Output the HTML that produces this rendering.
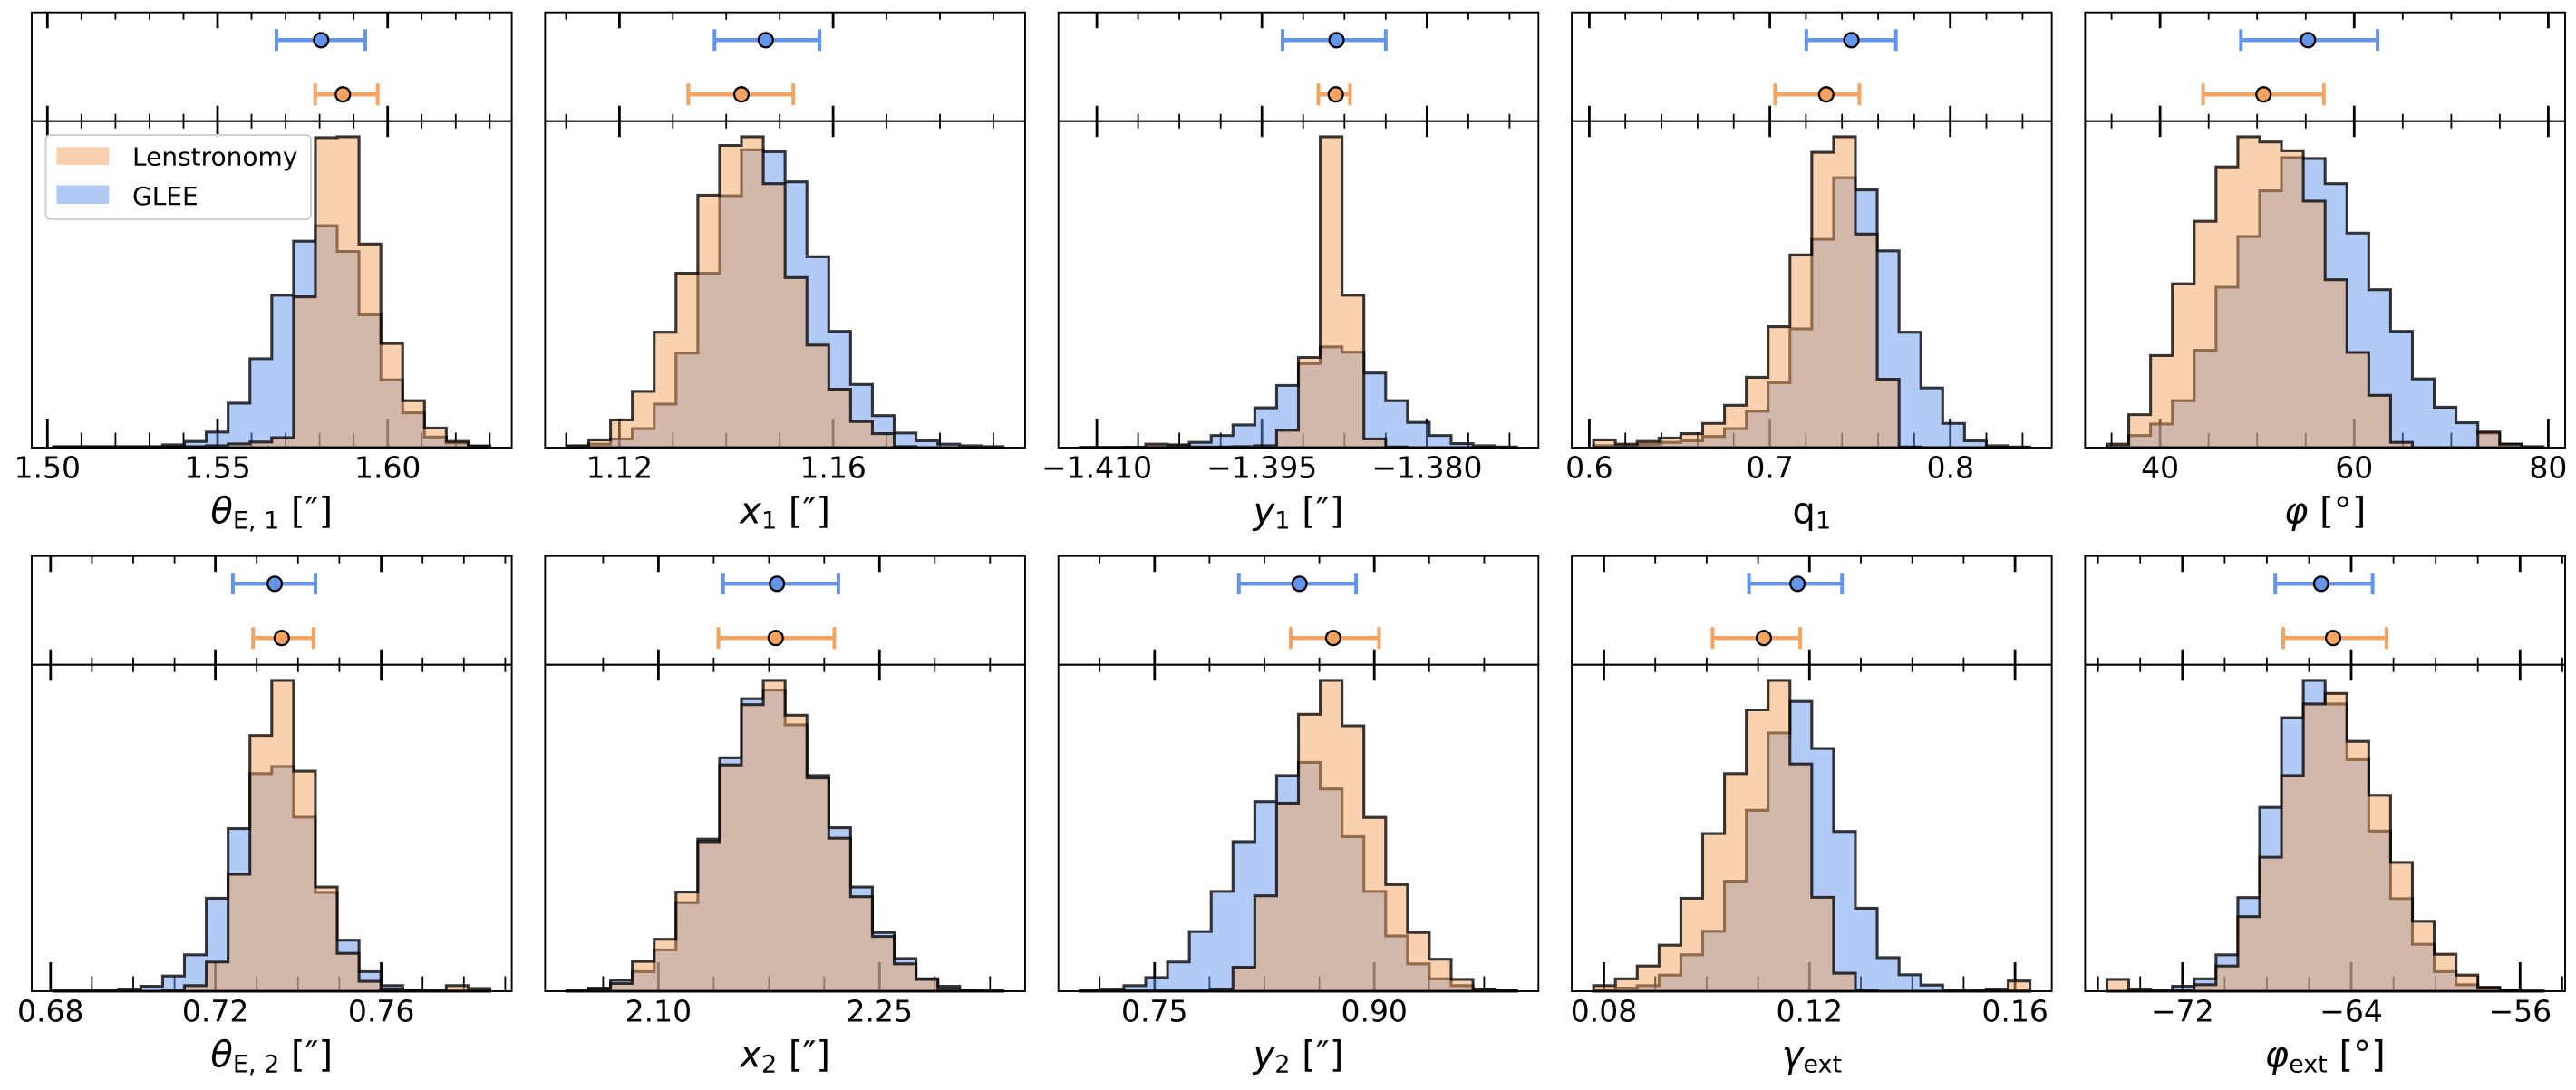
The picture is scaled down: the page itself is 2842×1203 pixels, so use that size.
<!DOCTYPE html>
<html>
<head>
<meta charset="utf-8">
<style>
html,body{margin:0;padding:0;background:#fff;width:2842px;height:1203px;overflow:hidden;}
svg{display:block;}
text{font-family:"DejaVu Sans","Liberation Sans",sans-serif;fill:#000;}
.tl{font-size:33px;text-anchor:middle;}
.al{font-size:40px;text-anchor:middle;}
.hb{fill:rgba(100,149,237,0.5);stroke:rgba(0,0,0,0.78);stroke-width:3.1px;}
.ho{fill:rgba(244,164,96,0.5);stroke:rgba(0,0,0,0.78);stroke-width:3.1px;}
.sp{fill:none;stroke:#000;stroke-width:1.9;}
.mj{stroke:#000;stroke-width:2.8;fill:none;}
.mn{stroke:#000;stroke-width:1.8;fill:none;}
</style>
</head>
<body>
<svg width="2842" height="1203" viewBox="0 0 2842 1203" xmlns="http://www.w3.org/2000/svg">
<rect x="0" y="0" width="2842" height="1203" fill="#fff"/>

<!-- ================= ROW 1 ================= -->
<g>
<path class="mj" d="M52.3 13.7v17.5m0 85.5v34.5m0 342.8v-32M240 13.7v17.5m0 85.5v34.5m0 342.8v-32M427.7 13.7v17.5m0 85.5v34.5m0 342.8v-32M683.4 13.7v17.5m0 85.5v34.5m0 342.8v-32M919.1 13.7v17.5m0 85.5v34.5m0 342.8v-32M1210.1 13.7v17.5m0 85.5v34.5m0 342.8v-32M1392.2 13.7v17.5m0 85.5v34.5m0 342.8v-32M1574.4 13.7v17.5m0 85.5v34.5m0 342.8v-32M1753.4 13.7v17.5m0 85.5v34.5m0 342.8v-32M1952.6 13.7v17.5m0 85.5v34.5m0 342.8v-32M2151.7 13.7v17.5m0 85.5v34.5m0 342.8v-32M2383.1 13.7v17.5m0 85.5v34.5m0 342.8v-32M2597.3 13.7v17.5m0 85.5v34.5m0 342.8v-32M2811.4 13.7v17.5m0 85.5v34.5m0 342.8v-32"/>
<path class="mn" d="M89.8 13.7v8m0 104v16m0 352.3v-16.5M127.4 13.7v8m0 104v16m0 352.3v-16.5M164.9 13.7v8m0 104v16m0 352.3v-16.5M202.5 13.7v8m0 104v16m0 352.3v-16.5M277.5 13.7v8m0 104v16m0 352.3v-16.5M315.1 13.7v8m0 104v16m0 352.3v-16.5M352.6 13.7v8m0 104v16m0 352.3v-16.5M390.2 13.7v8m0 104v16m0 352.3v-16.5M465.2 13.7v8m0 104v16m0 352.3v-16.5M502.8 13.7v8m0 104v16m0 352.3v-16.5M540.3 13.7v8m0 104v16m0 352.3v-16.5M624.5 13.7v8m0 104v16m0 352.3v-16.5M742.3 13.7v8m0 104v16m0 352.3v-16.5M801.2 13.7v8m0 104v16m0 352.3v-16.5M860.2 13.7v8m0 104v16m0 352.3v-16.5M978 13.7v8m0 104v16m0 352.3v-16.5M1037 13.7v8m0 104v16m0 352.3v-16.5M1095.9 13.7v8m0 104v16m0 352.3v-16.5M1255.6 13.7v8m0 104v16m0 352.3v-16.5M1301.1 13.7v8m0 104v16m0 352.3v-16.5M1346.7 13.7v8m0 104v16m0 352.3v-16.5M1437.7 13.7v8m0 104v16m0 352.3v-16.5M1483.3 13.7v8m0 104v16m0 352.3v-16.5M1528.8 13.7v8m0 104v16m0 352.3v-16.5M1619.9 13.7v8m0 104v16m0 352.3v-16.5M1665.4 13.7v8m0 104v16m0 352.3v-16.5M1793.2 13.7v8m0 104v16m0 352.3v-16.5M1833.1 13.7v8m0 104v16m0 352.3v-16.5M1872.9 13.7v8m0 104v16m0 352.3v-16.5M1912.7 13.7v8m0 104v16m0 352.3v-16.5M1992.4 13.7v8m0 104v16m0 352.3v-16.5M2032.2 13.7v8m0 104v16m0 352.3v-16.5M2072.1 13.7v8m0 104v16m0 352.3v-16.5M2111.9 13.7v8m0 104v16m0 352.3v-16.5M2191.5 13.7v8m0 104v16m0 352.3v-16.5M2231.4 13.7v8m0 104v16m0 352.3v-16.5M2329.6 13.7v8m0 104v16m0 352.3v-16.5M2436.7 13.7v8m0 104v16m0 352.3v-16.5M2490.2 13.7v8m0 104v16m0 352.3v-16.5M2543.8 13.7v8m0 104v16m0 352.3v-16.5M2650.8 13.7v8m0 104v16m0 352.3v-16.5M2704.4 13.7v8m0 104v16m0 352.3v-16.5M2757.9 13.7v8m0 104v16m0 352.3v-16.5"/>

<g transform="translate(59.07,494) scale(24.073,-343.1)">
<path class="hb" vector-effect="non-scaling-stroke" d="M0,0V.003H1V.003H2V.003H3V.003H4V.003H5V.009H6V.02H7V.05H8V.143H9V.286H10V.49H11V.664H12V.714H13V.631H14V.427H15V.218H16V.112H17V.034H18V.015H19V.005H20V0Z"/>
<path class="ho" vector-effect="non-scaling-stroke" d="M0,0V.002H6V.003H7V.006H8V.012H9V.018H10V.032H11V.485H12V.997H13V1H14V.655H15V.335H16V.151H17V.063H18V.02H19V.005H20V0Z"/>
</g>
<g transform="translate(625.42,494) scale(24.073,-343.1)">
<path class="hb" vector-effect="non-scaling-stroke" d="M0,0V.003H1V.011H2V.028H3V.061H4V.14H5V.304H6V.561H7V.81H8V.958H9V.952H10V.855H11V.614H12V.374H13V.203H14V.103H15V.047H16V.022H17V.011H18V.006H19V.003H20V0Z"/>
<path class="ho" vector-effect="non-scaling-stroke" d="M0,0V.006H1V.025H2V.089H3V.181H4V.371H5V.561H6V.812H7V.972H8V1H9V.849H10V.547H11V.33H12V.188H13V.084H14V.045H15V.003H16V0H20Z"/>
</g>
<g transform="translate(1191.77,494) scale(24.073,-343.1)">
<path class="hb" vector-effect="non-scaling-stroke" d="M0,0H2V.001H3V.002H4V.006H5V.017H6V.039H7V.073H8V.128H9V.2H10V.27H11V.324H12V.307H13V.24H14V.151H15V.081H16V.039H17V.013H18V.006H19V.002H20V0Z"/>
<path class="ho" vector-effect="non-scaling-stroke" d="M0,0V.001H3V.011H4V.009H5V.002H7V.003H8V.006H9V.056H10V.29H11V1H12V.49H13V.028H14V.002H15V0H20Z"/>
</g>
<g transform="translate(1758.12,494) scale(24.073,-343.1)">
<path class="hb" vector-effect="non-scaling-stroke" d="M0,0V.006H2V.011H3V.017H4V.022H5V.036H6V.061H7V.117H8V.209H9V.382H10V.67H11V.868H12V.829H13V.633H14V.371H15V.192H16V.078H17V.022H18V.006H19V.002H20V0Z"/>
<path class="ho" vector-effect="non-scaling-stroke" d="M0,0V.025H1V.011H2V.02H3V.031H4V.045H5V.078H6V.136H7V.226H8V.389H9V.62H10V.95H11V1H12V.687H13V.22H14V.002H15V0H20Z"/>
</g>
<g transform="translate(2324.47,494) scale(24.073,-343.1)">
<path class="hb" vector-effect="non-scaling-stroke" d="M0,0V.003H1V.039H2V.076H3V.151H4V.313H5V.516H6V.679H7V.826H8V.933H9V.93H10V.849H11V.69H12V.508H13V.374H14V.221H15V.13H16V.08H17V.047H18V.011H19V.003H20V0Z"/>
<path class="ho" vector-effect="non-scaling-stroke" d="M0,0V.011H1V.106H2V.296H3V.527H4V.728H5V.903H6V1H7V.983H8V.955H9V.793H10V.54H11V.306H12V.168H13V.017H14V0H17V.05H18V.011H19V0H20Z"/>
</g>

<rect class="sp" x="35" y="13.7" width="529.6" height="120"/>
<rect class="sp" x="35" y="133.7" width="529.6" height="360.3"/>
<rect class="sp" x="601.35" y="13.7" width="529.6" height="120"/>
<rect class="sp" x="601.35" y="133.7" width="529.6" height="360.3"/>
<rect class="sp" x="1167.7" y="13.7" width="529.6" height="120"/>
<rect class="sp" x="1167.7" y="133.7" width="529.6" height="360.3"/>
<rect class="sp" x="1734.05" y="13.7" width="529.6" height="120"/>
<rect class="sp" x="1734.05" y="133.7" width="529.6" height="360.3"/>
<rect class="sp" x="2300.4" y="13.7" width="529.6" height="120"/>
<rect class="sp" x="2300.4" y="133.7" width="529.6" height="360.3"/>

<path d="M305 44.3H403M788.3 44.3H904.2M1415 44.3H1528.8M1992.8 44.3H2091.7M2472.3 44.3H2623.1" stroke="#6495ED" stroke-width="4.5" fill="none"/>
<path d="M305 32.3v24M403 32.3v24M788.3 32.3v24M904.2 32.3v24M1415 32.3v24M1528.8 32.3v24M1992.8 32.3v24M2091.7 32.3v24M2472.3 32.3v24M2623.1 32.3v24" stroke="#6495ED" stroke-width="4" fill="none"/>
<path d="M347.7 104.2H416.7M759.3 104.2H875.2M1454.5 104.2H1489.4M1958.4 104.2H2051.4M2430.6 104.2H2563.8" stroke="#F4A460" stroke-width="4.5" fill="none"/>
<path d="M347.7 92.2v24M416.7 92.2v24M759.3 92.2v24M875.2 92.2v24M1454.5 92.2v24M1489.4 92.2v24M1958.4 92.2v24M2051.4 92.2v24M2430.6 92.2v24M2563.8 92.2v24" stroke="#F4A460" stroke-width="4" fill="none"/>
<g fill="#6495ED" stroke="#000" stroke-width="2.3">
<circle cx="354.3" cy="44.3" r="7.9"/><circle cx="844.8" cy="44.3" r="7.9"/><circle cx="1474.5" cy="44.3" r="7.9"/><circle cx="2042.6" cy="44.3" r="7.9"/><circle cx="2546.3" cy="44.3" r="7.9"/>
</g>
<g fill="#F4A460" stroke="#000" stroke-width="2.3">
<circle cx="378.3" cy="104.2" r="7.9"/><circle cx="818" cy="104.2" r="7.9"/><circle cx="1473.7" cy="104.2" r="7.9"/><circle cx="2014.8" cy="104.2" r="7.9"/><circle cx="2497.2" cy="104.2" r="7.9"/>
</g>

<rect x="50.5" y="149" width="292.5" height="93" rx="5" ry="5" fill="#fff" fill-opacity="0.8" stroke="#d0d0d0" stroke-width="2"/>
<rect x="62.3" y="162.3" width="58" height="19.6" fill="rgba(244,164,96,0.5)"/>
<rect x="62.3" y="204.5" width="58" height="20.5" fill="rgba(100,149,237,0.5)"/>
<text x="146" y="182.6" font-size="28">Lenstronomy</text>
<text x="146" y="225.8" font-size="28">GLEE</text>

<text class="tl" x="52.3" y="527.3">1.50</text>
<text class="tl" x="240" y="527.3">1.55</text>
<text class="tl" x="427.7" y="527.3">1.60</text>
<text class="tl" x="683.4" y="527.3">1.12</text>
<text class="tl" x="919.1" y="527.3">1.16</text>
<text class="tl" x="1210.1" y="527.3">−1.410</text>
<text class="tl" x="1392.2" y="527.3">−1.395</text>
<text class="tl" x="1574.4" y="527.3">−1.380</text>
<text class="tl" x="1753.4" y="527.3">0.6</text>
<text class="tl" x="1952.6" y="527.3">0.7</text>
<text class="tl" x="2151.7" y="527.3">0.8</text>
<text class="tl" x="2383.1" y="527.3">40</text>
<text class="tl" x="2597.3" y="527.3">60</text>
<text class="tl" x="2811.4" y="527.3">80</text>

<text class="al" x="299.8" y="577.5"><tspan font-style="italic">θ</tspan><tspan font-size="27" dy="6">E, 1</tspan><tspan dy="-6"> [″]</tspan></text>
<text class="al" x="866.15" y="577.5"><tspan font-style="italic">x</tspan><tspan font-size="27" dy="6">1</tspan><tspan dy="-6"> [″]</tspan></text>
<text class="al" x="1432.5" y="577.5"><tspan font-style="italic">y</tspan><tspan font-size="27" dy="6">1</tspan><tspan dy="-6"> [″]</tspan></text>
<text class="al" x="1998.85" y="577.5"><tspan>q</tspan><tspan font-size="27" dy="6">1</tspan></text>
<text class="al" x="2565.2" y="577.5"><tspan font-style="italic">φ</tspan><tspan> [°]</tspan></text>
</g>

<!-- ================= ROW 2 ================= -->
<g transform="translate(0,600)">
<path class="mj" d="M55.8 13.7v17.5m0 85.5v34.5m0 342.8v-32M237.6 13.7v17.5m0 85.5v34.5m0 342.8v-32M420.6 13.7v17.5m0 85.5v34.5m0 342.8v-32M726.4 13.7v17.5m0 85.5v34.5m0 342.8v-32M970.3 13.7v17.5m0 85.5v34.5m0 342.8v-32M1273.8 13.7v17.5m0 85.5v34.5m0 342.8v-32M1516.2 13.7v17.5m0 85.5v34.5m0 342.8v-32M1769.5 13.7v17.5m0 85.5v34.5m0 342.8v-32M1996.3 13.7v17.5m0 85.5v34.5m0 342.8v-32M2223.1 13.7v17.5m0 85.5v34.5m0 342.8v-32M2407.8 13.7v17.5m0 85.5v34.5m0 342.8v-32M2594 13.7v17.5m0 85.5v34.5m0 342.8v-32M2780.3 13.7v17.5m0 85.5v34.5m0 342.8v-32"/>
<path class="mn" d="M101.4 13.7v8m0 104v16m0 352.3v-16.5M147 13.7v8m0 104v16m0 352.3v-16.5M192.6 13.7v8m0 104v16m0 352.3v-16.5M283.2 13.7v8m0 104v16m0 352.3v-16.5M328.8 13.7v8m0 104v16m0 352.3v-16.5M374.4 13.7v8m0 104v16m0 352.3v-16.5M466.2 13.7v8m0 104v16m0 352.3v-16.5M511.8 13.7v8m0 104v16m0 352.3v-16.5M557.4 13.7v8m0 104v16m0 352.3v-16.5M665.4 13.7v8m0 104v16m0 352.3v-16.5M787.4 13.7v8m0 104v16m0 352.3v-16.5M848.4 13.7v8m0 104v16m0 352.3v-16.5M909.3 13.7v8m0 104v16m0 352.3v-16.5M1031.3 13.7v8m0 104v16m0 352.3v-16.5M1092.3 13.7v8m0 104v16m0 352.3v-16.5M1213.2 13.7v8m0 104v16m0 352.3v-16.5M1334.4 13.7v8m0 104v16m0 352.3v-16.5M1395 13.7v8m0 104v16m0 352.3v-16.5M1455.6 13.7v8m0 104v16m0 352.3v-16.5M1576.8 13.7v8m0 104v16m0 352.3v-16.5M1637.4 13.7v8m0 104v16m0 352.3v-16.5M1826.2 13.7v8m0 104v16m0 352.3v-16.5M1882.9 13.7v8m0 104v16m0 352.3v-16.5M1939.6 13.7v8m0 104v16m0 352.3v-16.5M2053 13.7v8m0 104v16m0 352.3v-16.5M2109.7 13.7v8m0 104v16m0 352.3v-16.5M2166.4 13.7v8m0 104v16m0 352.3v-16.5M2314.7 13.7v8m0 104v16m0 352.3v-16.5M2361.2 13.7v8m0 104v16m0 352.3v-16.5M2454.4 13.7v8m0 104v16m0 352.3v-16.5M2500.9 13.7v8m0 104v16m0 352.3v-16.5M2547.5 13.7v8m0 104v16m0 352.3v-16.5M2640.6 13.7v8m0 104v16m0 352.3v-16.5M2687.2 13.7v8m0 104v16m0 352.3v-16.5M2733.7 13.7v8m0 104v16m0 352.3v-16.5M2826.9 13.7v8m0 104v16m0 352.3v-16.5"/>

<g transform="translate(59.07,494) scale(24.073,-343.1)">
<path class="hb" vector-effect="non-scaling-stroke" d="M0,0V.003H3V.007H4V.016H5V.049H6V.117H7V.299H8V.523H9V.7H10V.723H11V.56H12V.318H13V.164H14V.063H15V.018H16V.003H20V0Z"/>
<path class="ho" vector-effect="non-scaling-stroke" d="M0,0H5V.004H6V.018H7V.094H8V.376H9V.823H10V1H11V.708H12V.335H13V.122H14V.032H15V.007H16V.003H17V.001H18V.018H19V.009H20V0Z"/>
</g>
<g transform="translate(625.42,494) scale(24.073,-343.1)">
<path class="hb" vector-effect="non-scaling-stroke" d="M0,0V.003H1V.01H2V.036H3V.063H4V.133H5V.285H6V.489H7V.751H8V.941H9V.969H10V.857H11V.694H12V.526H13V.335H14V.189H15V.105H16V.04H17V.016H18V.004H19V.002H20V0Z"/>
<path class="ho" vector-effect="non-scaling-stroke" d="M0,0V.001H1V.007H2V.025H3V.096H4V.167H5V.319H6V.481H7V.728H8V.922H9V1H10V.888H11V.686H12V.492H13V.304H14V.176H15V.088H16V.038H17V.007H18V.002H19V0H20Z"/>
</g>
<g transform="translate(1191.77,494) scale(24.073,-343.1)">
<path class="hb" vector-effect="non-scaling-stroke" d="M0,0V.003H1V.007H2V.018H3V.044H4V.094H5V.192H6V.321H7V.481H8V.61H9V.694H10V.736H11V.651H12V.497H13V.321H14V.178H15V.088H16V.04H17V.018H18V.006H19V.002H20V0Z"/>
<path class="ho" vector-effect="non-scaling-stroke" d="M0,0V.001H6V.007H7V.077H8V.307H9V.605H10V.891H11V1H12V.854H13V.559H14V.343H15V.189H16V.103H17V.038H18V.007H19V.003H20V0Z"/>
</g>
<g transform="translate(1758.12,494) scale(24.073,-343.1)">
<path class="hb" vector-effect="non-scaling-stroke" d="M0,0V.004H1V.01H2V.018H3V.052H4V.117H5V.193H6V.354H7V.582H8V.831H9V.932H10V.781H11V.514H12V.267H13V.108H14V.053H15V.02H16V.004H17V.002H18V.004H19V.002H20V0Z"/>
<path class="ho" vector-effect="non-scaling-stroke" d="M0,0V.018H1V.04H2V.081H3V.148H4V.299H5V.507H6V.7H7V.905H8V1H9V.731H10V.302H11V.058H12V.004H13V0H18V.007H19V.033H20V0Z"/>
</g>
<g transform="translate(2324.47,494) scale(24.073,-343.1)">
<path class="hb" vector-effect="non-scaling-stroke" d="M0,0H1V.002H3V.016H4V.04H5V.117H6V.301H7V.591H8V.88H9V1H10V.924H11V.745H12V.515H13V.298H14V.151H15V.063H16V.021H17V.01H18V.003H19V.001H20V0Z"/>
<path class="ho" vector-effect="non-scaling-stroke" d="M0,0V.038H1V.007H2V0H3V.002H4V.021H5V.081H6V.24H7V.431H8V.694H9V.924H10V.958H11V.804H12V.63H13V.414H14V.225H15V.119H16V.052H17V.013H18V.003H19V0H20Z"/>
</g>

<rect class="sp" x="35" y="13.7" width="529.6" height="120"/>
<rect class="sp" x="35" y="133.7" width="529.6" height="360.3"/>
<rect class="sp" x="601.35" y="13.7" width="529.6" height="120"/>
<rect class="sp" x="601.35" y="133.7" width="529.6" height="360.3"/>
<rect class="sp" x="1167.7" y="13.7" width="529.6" height="120"/>
<rect class="sp" x="1167.7" y="133.7" width="529.6" height="360.3"/>
<rect class="sp" x="1734.05" y="13.7" width="529.6" height="120"/>
<rect class="sp" x="1734.05" y="133.7" width="529.6" height="360.3"/>
<rect class="sp" x="2300.4" y="13.7" width="529.6" height="120"/>
<rect class="sp" x="2300.4" y="133.7" width="529.6" height="360.3"/>

<path d="M256.9 44.3H348.1M797.8 44.3H924.9M1366.8 44.3H1496.1M1929.6 44.3H2032.2M2510.2 44.3H2617.6" stroke="#6495ED" stroke-width="4.5" fill="none"/>
<path d="M256.9 32.3v24M348.1 32.3v24M797.8 32.3v24M924.9 32.3v24M1366.8 32.3v24M1496.1 32.3v24M1929.6 32.3v24M2032.2 32.3v24M2510.2 32.3v24M2617.6 32.3v24" stroke="#6495ED" stroke-width="4" fill="none"/>
<path d="M279.2 104.2H345.8M792.6 104.2H920.4M1424 104.2H1521.4M1889.4 104.2H1986.1M2519 104.2H2633" stroke="#F4A460" stroke-width="4.5" fill="none"/>
<path d="M279.2 92.2v24M345.8 92.2v24M792.6 92.2v24M920.4 92.2v24M1424 92.2v24M1521.4 92.2v24M1889.4 92.2v24M1986.1 92.2v24M2519 92.2v24M2633 92.2v24" stroke="#F4A460" stroke-width="4" fill="none"/>
<g fill="#6495ED" stroke="#000" stroke-width="2.3">
<circle cx="303.1" cy="44.3" r="7.9"/><circle cx="857.2" cy="44.3" r="7.9"/><circle cx="1433.7" cy="44.3" r="7.9"/><circle cx="1983.1" cy="44.3" r="7.9"/><circle cx="2560.8" cy="44.3" r="7.9"/>
</g>
<g fill="#F4A460" stroke="#000" stroke-width="2.3">
<circle cx="310.8" cy="104.2" r="7.9"/><circle cx="855.8" cy="104.2" r="7.9"/><circle cx="1470.9" cy="104.2" r="7.9"/><circle cx="1946" cy="104.2" r="7.9"/><circle cx="2574" cy="104.2" r="7.9"/>
</g>

<text class="tl" x="55.8" y="527.3">0.68</text>
<text class="tl" x="237.6" y="527.3">0.72</text>
<text class="tl" x="420.6" y="527.3">0.76</text>
<text class="tl" x="726.4" y="527.3">2.10</text>
<text class="tl" x="970.3" y="527.3">2.25</text>
<text class="tl" x="1273.8" y="527.3">0.75</text>
<text class="tl" x="1516.2" y="527.3">0.90</text>
<text class="tl" x="1769.5" y="527.3">0.08</text>
<text class="tl" x="1996.3" y="527.3">0.12</text>
<text class="tl" x="2223.1" y="527.3">0.16</text>
<text class="tl" x="2407.8" y="527.3">−72</text>
<text class="tl" x="2594" y="527.3">−64</text>
<text class="tl" x="2780.3" y="527.3">−56</text>

<text class="al" x="299.8" y="577.5"><tspan font-style="italic">θ</tspan><tspan font-size="27" dy="6">E, 2</tspan><tspan dy="-6"> [″]</tspan></text>
<text class="al" x="866.15" y="577.5"><tspan font-style="italic">x</tspan><tspan font-size="27" dy="6">2</tspan><tspan dy="-6"> [″]</tspan></text>
<text class="al" x="1432.5" y="577.5"><tspan font-style="italic">y</tspan><tspan font-size="27" dy="6">2</tspan><tspan dy="-6"> [″]</tspan></text>
<text class="al" x="1998.85" y="577.5"><tspan font-style="italic">γ</tspan><tspan font-size="27" dy="6">ext</tspan></text>
<text class="al" x="2565.2" y="577.5"><tspan font-style="italic">φ</tspan><tspan font-size="27" dy="6">ext</tspan><tspan dy="-6"> [°]</tspan></text>
</g>
</svg>
</body>
</html>
